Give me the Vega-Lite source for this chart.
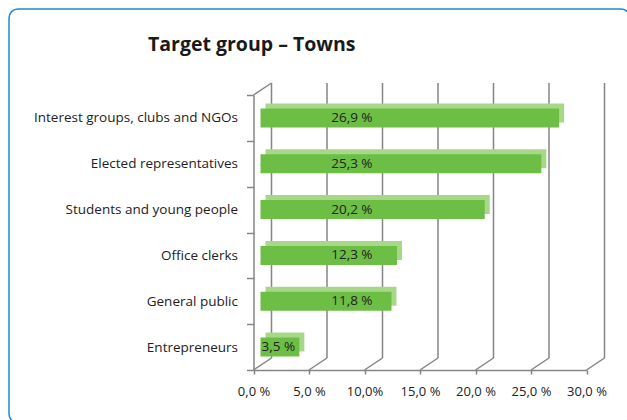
{
  "$schema": "https://vega.github.io/schema/vega-lite/v6.json",
  "width": 621,
  "height": 414,
  "autosize": {"type": "none"},
  "padding": {"left": 9, "top": 9, "right": -3, "bottom": -3},
  "background": "white",
  "config": {
    "view": {"stroke": "#1b8bd3", "strokeWidth": 1.5, "cornerRadius": 9, "fill": "white"},
    "font": "Open Sans"
  },
  "title": {
    "text": "Target group – Towns",
    "anchor": "start",
    "frame": "group",
    "offset": 0,
    "dx": 139,
    "dy": 68,
    "baseline": "alphabetic",
    "fontSize": 19.5,
    "fontWeight": "bold",
    "color": "#1a1a1a",
    "font": "Open Sans"
  },
  "datasets": {
    "bars": [
      {"category": "Interest groups, clubs and NGOs", "value": 26.9, "label": "26,9 %"},
      {"category": "Elected representatives", "value": 25.3, "label": "25,3 %"},
      {"category": "Students and young people", "value": 20.2, "label": "20,2 %"},
      {"category": "Office clerks", "value": 12.3, "label": "12,3 %"},
      {"category": "General public", "value": 11.8, "label": "11,8 %"},
      {"category": "Entrepreneurs", "value": 3.5, "label": "3,5 %"}
    ],
    "grid": [{"v": 0}, {"v": 5}, {"v": 10}, {"v": 15}, {"v": 20}, {"v": 25}, {"v": 30}]
  },
  "layer": [
    {
      "data": {"name": "grid"},
      "layer": [
        {
          "mark": {"type": "rule", "color": "#858585", "strokeWidth": 1.5, "xOffset": 18, "yOffset": -12, "y2Offset": -12},
          "encoding": {
            "x": {
              "field": "v", "type": "quantitative",
              "scale": {"domain": [0, 30], "range": [244.5, 577.5], "nice": false},
              "axis": {
                "orient": "bottom", "offset": -53, "values": [0, 5, 10, 15, 20, 25, 30],
                "labelExpr": "datum.value == 10 ? '10,0%' : replace(format(datum.value, '.1f'), '.', ',') + ' %'",
                "labelOverlap": false, "labelFlush": false, "labelBound": false,
                "title": null, "grid": false,
                "domainColor": "#858585", "domainWidth": 1.5,
                "tickColor": "#858585", "tickWidth": 1.5, "tickSize": 4,
                "labelFontSize": 13, "labelColor": "#222222", "labelPadding": 11, "labelFont": "Open Sans"
              }
            },
            "y": {"datum": 0, "type": "quantitative", "scale": {"domain": [0, 1], "range": [361, 86]}, "axis": null},
            "y2": {"datum": 1}
          }
        },
        {
          "mark": {"type": "rule", "color": "#858585", "strokeWidth": 1.5, "x2Offset": 18, "y2Offset": -12},
          "encoding": {
            "x": {"field": "v", "type": "quantitative"},
            "x2": {"field": "v"},
            "y": {"datum": 0, "type": "quantitative"},
            "y2": {"datum": 0}
          }
        },
        {
          "transform": [{"filter": "datum.v == 0"}],
          "mark": {"type": "rule", "color": "#858585", "strokeWidth": 1.5, "x2Offset": 18, "y2Offset": -12},
          "encoding": {
            "x": {"field": "v", "type": "quantitative"},
            "x2": {"field": "v"},
            "y": {"datum": 1, "type": "quantitative"},
            "y2": {"datum": 1}
          }
        }
      ]
    },
    {
      "data": {"name": "bars"},
      "encoding": {
        "y": {
          "field": "category", "type": "nominal", "sort": null,
          "scale": {"range": [86, 361], "paddingInner": 0, "paddingOuter": 0},
          "axis": {
            "orient": "left", "offset": -244.5, "title": null,
            "tickBand": "extent", "tickSize": 7, "tickColor": "#858585", "tickWidth": 1.5,
            "domainColor": "#858585", "domainWidth": 1.5,
            "labelPadding": 9, "labelFontSize": 13.5, "labelColor": "#222222", "labelLimit": 300, "labelFont": "Open Sans"
          }
        }
      },
      "layer": [
        {
          "mark": {"type": "bar", "color": "#a9d78a", "size": 19, "xOffset": 12, "x2Offset": 12, "yOffset": -5, "y2Offset": -5},
          "encoding": {"x": {"field": "value", "type": "quantitative"}}
        },
        {
          "mark": {"type": "bar", "color": "#6cbe45", "size": 19, "xOffset": 7, "x2Offset": 7},
          "encoding": {"x": {"field": "value", "type": "quantitative"}}
        },
        {
          "transform": [{"filter": "datum.value >= 5"}],
          "mark": {"type": "text", "align": "left", "baseline": "middle", "fontSize": 13.5, "color": "#222222", "font": "Open Sans"},
          "encoding": {"x": {"datum": 7, "type": "quantitative"}, "text": {"field": "label"}}
        },
        {
          "transform": [{"filter": "datum.value < 5"}],
          "mark": {"type": "text", "align": "left", "baseline": "middle", "fontSize": 13.5, "color": "#222222", "font": "Open Sans", "dx": 8},
          "encoding": {"x": {"datum": 0, "type": "quantitative"}, "text": {"field": "label"}}
        }
      ]
    }
  ],
  "resolve": {"scale": {"y": "independent"}}
}
